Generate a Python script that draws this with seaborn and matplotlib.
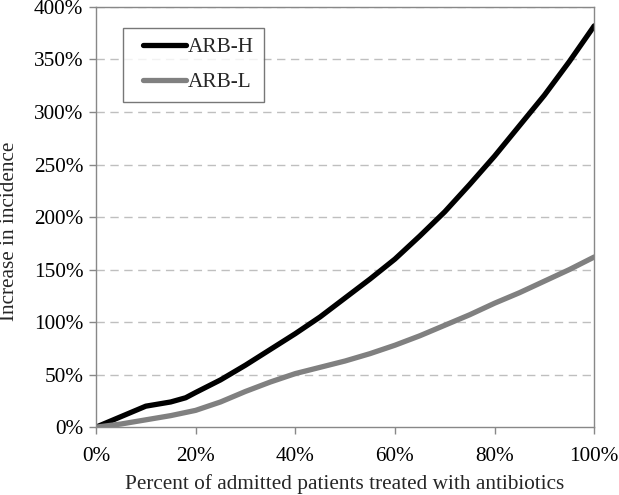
import numpy as np
import pandas as pd
import matplotlib
matplotlib.use("Agg")
import matplotlib.pyplot as plt
import seaborn as sns
from matplotlib.lines import Line2D
from matplotlib.legend_handler import HandlerLine2D
from matplotlib.ticker import PercentFormatter

# values (percent)
treated = [0, 5, 10, 15, 18, 20, 25, 30, 35, 40, 45, 50, 55, 60, 65, 70, 75, 80, 85, 90, 95, 100]
arb_h = [0, 10, 20, 24, 28, 33, 45, 59, 74, 89, 105, 123, 141, 160, 182, 205, 231, 258, 287, 316, 348, 382]
arb_l = [0, 3, 7, 11, 14, 16, 24, 34, 43, 51, 57, 63, 70, 78, 87, 97, 107, 118, 128, 139, 150, 162]

df = pd.DataFrame({
    "treated": treated * 2,
    "increase": arb_h + arb_l,
    "series": ["ARB-H"] * len(treated) + ["ARB-L"] * len(treated),
})

sns.set_style("white")
plt.rcParams["font.family"] = ["Liberation Serif", "DejaVu Serif"]
fs = 15.3

fig = plt.figure(figsize=(6.19, 4.95), dpi=100)
ax = fig.add_axes([0.155, 0.137, 0.805, 0.849])

sns.lineplot(data=df, x="treated", y="increase", hue="series",
             palette={"ARB-H": "#000000", "ARB-L": "#808080"},
             linewidth=3.8, ax=ax)

ax.set_xlim(0, 100)
ax.set_ylim(0, 400)
ax.set_xticks(range(0, 101, 20))
ax.set_yticks(range(0, 401, 50))
ax.xaxis.set_major_formatter(PercentFormatter(decimals=0))
ax.yaxis.set_major_formatter(PercentFormatter(decimals=0))
ax.tick_params(axis="both", labelsize=fs, colors="#888888", labelcolor="black",
               direction="out", length=5, width=1, left=True, bottom=True)
ax.tick_params(axis="x", pad=9)
ax.tick_params(axis="y", pad=4)

for y in range(50, 401, 50):
    ax.axhline(y, color="#bfbfbf", lw=1, ls=(0, (6, 4)), zorder=0)

for s in ax.spines.values():
    s.set_color("#888888")
    s.set_linewidth(1)

ax.set_xlabel("Percent of admitted patients treated with antibiotics", fontsize=fs)
ax.set_ylabel("Increase in incidence", fontsize=fs)
ax.xaxis.set_label_coords(0.5, -0.112)
ax.yaxis.set_label_coords(-0.154, 0.466)

leg = ax.legend(title=None, loc="upper left", bbox_to_anchor=(0.054, 0.951),
                fontsize=fs, frameon=True, fancybox=False, handlelength=2.5,
                handletextpad=0.12, borderpad=0.45, labelspacing=0.72,
                borderaxespad=0, handler_map={Line2D: HandlerLine2D(xpad=0.5)})
leg.get_frame().set_edgecolor("#555555")
leg.get_frame().set_linewidth(1)

fig.savefig("out.png", dpi=100)
